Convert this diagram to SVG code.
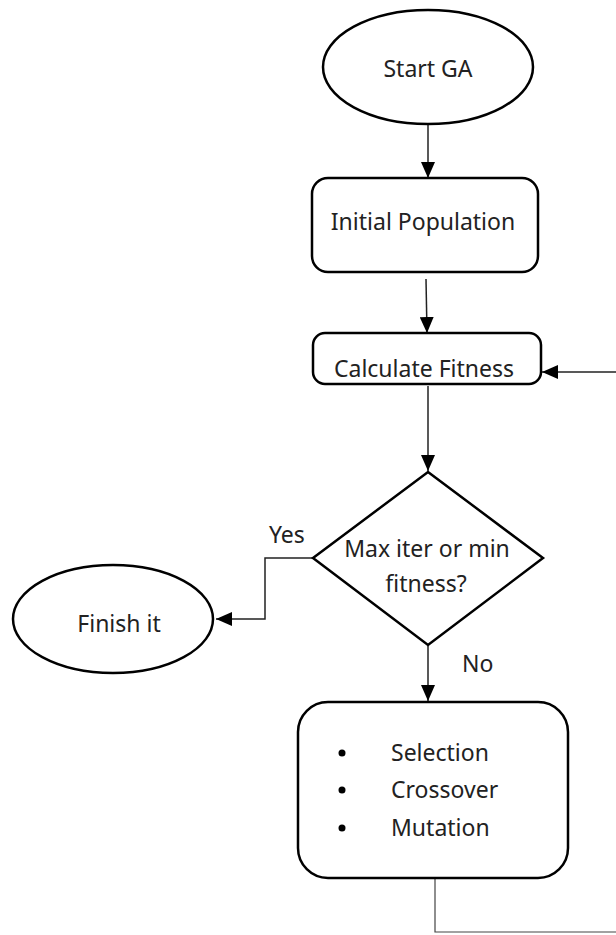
<svg xmlns="http://www.w3.org/2000/svg" width="616" height="935" viewBox="0 0 616 935">
<defs>
<style>
.shape{fill:#fff;stroke:#000;stroke-width:2.5}
.conn{fill:none;stroke:#222;stroke-width:1.5}
.t{font-family:"Noto Sans","Open Sans",sans-serif;font-size:23px;fill:#222}
.c{text-anchor:middle}
</style>
<marker id="ah" markerWidth="16" markerHeight="14" refX="16" refY="7" orient="auto" markerUnits="userSpaceOnUse" viewBox="0 0 16 14">
<path d="M0,0 L16,7 L0,14 Z" fill="#000"/>
</marker>
</defs>
<rect width="616" height="935" fill="#fff"/>
<g id="connectors">
<line class="conn" x1="428" y1="125" x2="428" y2="178" marker-end="url(#ah)"/>
<line class="conn" x1="426" y1="279" x2="427" y2="333" marker-end="url(#ah)"/>
<line class="conn" x1="616" y1="372" x2="542" y2="372" marker-end="url(#ah)"/>
<line class="conn" x1="428" y1="386" x2="428" y2="471" marker-end="url(#ah)"/>
<polyline class="conn" points="313,558 265,558 265,619 216,619" marker-end="url(#ah)"/>
<line class="conn" x1="428" y1="646" x2="428" y2="701" marker-end="url(#ah)"/>
<polyline class="conn" points="435,879 435,932 616,932" style="stroke:#444;stroke-width:1.2"/>
</g>
<g id="start">
<ellipse class="shape" cx="428" cy="67" rx="105" ry="57"/>
<text class="t c" x="428" y="77">Start GA</text>
</g>
<g id="init">
<rect class="shape" x="312" y="178" width="226" height="94" rx="16"/>
<text class="t c" x="423" y="230">Initial Population</text>
</g>
<g id="calc">
<rect class="shape" x="313" y="333" width="228" height="51" rx="12"/>
<text class="t c" x="424" y="377">Calculate Fitness</text>
</g>
<g id="decision">
<polygon class="shape" points="428,472 543,558 428,645 313,558"/>
<text class="t c" x="427" y="557">Max iter or min</text>
<text class="t c" x="426" y="592">fitness?</text>
</g>
<g id="finish">
<ellipse class="shape" cx="113" cy="619" rx="100" ry="54"/>
<text class="t c" x="119" y="632">Finish it</text>
</g>
<g id="ops">
<rect class="shape" x="298" y="702" width="270" height="176" rx="30"/>
<circle cx="342" cy="753" r="3.5" fill="#000"/>
<circle cx="342" cy="790" r="3.5" fill="#000"/>
<circle cx="342" cy="828" r="3.5" fill="#000"/>
<text class="t" x="391" y="761">Selection</text>
<text class="t" x="391" y="798">Crossover</text>
<text class="t" x="391" y="836">Mutation</text>
</g>
<g id="labels">
<text class="t" x="269" y="543">Yes</text>
<text class="t" x="462" y="672">No</text>
</g>
</svg>
